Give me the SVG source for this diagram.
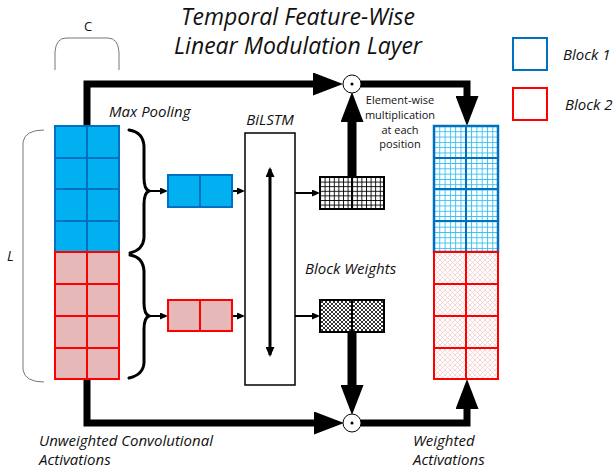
<svg xmlns="http://www.w3.org/2000/svg" width="616" height="471" viewBox="0 0 616 471">
<style>
  text { font-family: "Open Sans", "Noto Sans", "DejaVu Sans", sans-serif; fill: #111; }
  .it { font-style: italic; }
  .title { font-size: 23px; font-style: italic; text-anchor: middle; }
  .lbl { font-size: 15px; font-style: italic; }
  .note { font-size: 11px; text-anchor: middle; }
  .blueCell { fill: #00B0F0; stroke: #0070C0; stroke-width: 2; }
  .redCell { fill: #E6B9B8; stroke: #FF0000; stroke-width: 2; }
  .blueLine { stroke: #0070C0; stroke-width: 2; fill: none; }
  .redLine { stroke: #FF0000; stroke-width: 2; fill: none; }
  .thick { stroke: #000; stroke-width: 7; fill: none; stroke-linejoin: miter; }
  .thicker { stroke: #000; stroke-width: 9; fill: none; }
  .thin { stroke: #000; stroke-width: 2; fill: none; }
  .brace { stroke: #000; stroke-width: 3; fill: none; stroke-linecap: round; }
  .bracket { stroke: #777; stroke-width: 1; fill: none; }
  .blk { stroke: #000; stroke-width: 2; }
</style>
<defs>
  <marker id="bigHead" markerUnits="userSpaceOnUse" markerWidth="30" markerHeight="23" viewBox="0 0 30 23" refX="1" refY="11.5" orient="auto">
    <path d="M0,0 L30,11.5 L0,23 z" fill="#000"/>
  </marker>
  <marker id="smallHead" markerUnits="userSpaceOnUse" markerWidth="8" markerHeight="7" viewBox="0 0 8 7" refX="6" refY="3.5" orient="auto">
    <path d="M0,0 L8,3.5 L0,7 z" fill="#000"/>
  </marker>
  <marker id="dblHead" markerUnits="userSpaceOnUse" markerWidth="10" markerHeight="9" viewBox="0 0 10 9" refX="8" refY="4.5" orient="auto-start-reverse">
    <path d="M0,0 L10,4.5 L0,9 z" fill="#000"/>
  </marker>
  <pattern id="gridK" patternUnits="userSpaceOnUse" x="320" y="177" width="4.6" height="4.6">
    <rect width="4.6" height="4.6" fill="#fff"/>
    <path d="M0,0.5 H4.6 M0.5,0 V4.6" stroke="#000" stroke-width="0.9"/>
  </pattern>
  <pattern id="crossK" patternUnits="userSpaceOnUse" width="4" height="4">
    <rect width="4" height="4" fill="#fff"/>
    <path d="M0,0 L4,4 M4,0 L0,4" stroke="#000" stroke-width="0.8"/>
  </pattern>
  <pattern id="gridB" patternUnits="userSpaceOnUse" x="434" y="126" width="5.3" height="5.3">
    <rect width="5.3" height="5.3" fill="#fff"/>
    <path d="M0,0.5 H5.3 M0.5,0 V5.3" stroke="#33BFF2" stroke-width="0.9"/>
  </pattern>
  <pattern id="crossR" patternUnits="userSpaceOnUse" width="5" height="5">
    <rect width="5" height="5" fill="#fff"/>
    <path d="M0,0 L5,5 M5,0 L0,5" stroke="#F5CCCC" stroke-width="0.8"/>
  </pattern>
</defs>

<rect width="616" height="471" fill="#fff"/>

<!-- Title -->
<g id="title">
  <text class="title" x="298" y="25">Temporal Feature-Wise</text>
  <text class="title" x="298" y="54">Linear Modulation Layer</text>
</g>

<!-- Legend -->
<g id="legend-block1">
  <rect x="513" y="38" width="34" height="32" fill="#fff" stroke="#0070C0" stroke-width="2"/>
  <text class="lbl" x="563" y="60">Block 1</text>
</g>
<g id="legend-block2">
  <rect x="513" y="88" width="34" height="32" fill="#fff" stroke="#FF0000" stroke-width="2"/>
  <text class="lbl" x="565" y="110">Block 2</text>
</g>

<!-- Connectors -->
<g id="connectors">
  <path class="thick" d="M87,126 V84 H314" marker-end="url(#bigHead)"/>
  <path class="thick" d="M361,84 H467 V97" marker-end="url(#bigHead)"/>
  <path class="thicker" d="M352,177 V121" marker-end="url(#bigHead)"/>
  <path class="thick" d="M87,379 V423 H315" marker-end="url(#bigHead)"/>
  <path class="thicker" d="M352,332 V386" marker-end="url(#bigHead)"/>
  <path class="thick" d="M361,423 H467 V408" marker-end="url(#bigHead)"/>
  <path class="thin" d="M148,191 H166" marker-end="url(#smallHead)"/>
  <path class="thin" d="M148,316 H166" marker-end="url(#smallHead)"/>
  <path class="thin" stroke-width="1.5" d="M232,191 H243" marker-end="url(#smallHead)"/>
  <path class="thin" stroke-width="1.5" d="M232,316 H243" marker-end="url(#smallHead)"/>
  <path class="thin" d="M295,193 H318" marker-end="url(#smallHead)"/>
  <path class="thin" d="M295,316 H318" marker-end="url(#smallHead)"/>
</g>

<!-- Input activations -->
<g id="input-activations">
  <rect class="blueCell" x="55" y="126" width="64" height="126"/>
  <path class="blueLine" d="M55,158 H119 M55,189 H119 M55,221 H119 M87,126 V252"/>
  <rect class="redCell" x="55" y="252" width="64" height="127"/>
  <path class="redLine" d="M55,284 H119 M55,316 H119 M55,348 H119 M87,252 V379"/>
  <path class="redLine" d="M55,252 H119"/>
</g>

<!-- C bracket -->
<g id="c-bracket">
  <path class="bracket" d="M55,70 V52 Q56,38 66,38 H108 Q118,38 119,52 V70"/>
  <text x="88" y="31" font-size="13" text-anchor="middle">C</text>
</g>

<!-- L bracket -->
<g id="l-bracket">
  <path class="bracket" d="M44,130 Q25,130 23,142 V370 Q25,382 44,382"/>
  <text class="it" x="7" y="261" font-size="14">L</text>
</g>

<!-- Braces -->
<g id="brace-block1">
  <path class="brace" d="M129,130 Q143,132 144,146 V178 Q144,189 149,191 Q144,193 144,204 V238 Q143,250 130,253"/>
</g>
<g id="brace-block2">
  <path class="brace" d="M130,255 Q143,257 144,271 V303 Q144,314 149,316 Q144,318 144,329 V363 Q143,375 129,378"/>
</g>

<!-- Max pooling label -->
<text class="lbl" x="109" y="117">Max Pooling</text>

<!-- Pooled blocks -->
<g id="pooled-block1">
  <rect class="blueCell" x="168" y="175" width="64" height="32"/>
  <path class="blueLine" d="M200,175 V207"/>
</g>
<g id="pooled-block2">
  <rect class="redCell" x="168" y="300" width="64" height="31"/>
  <path class="redLine" d="M200,300 V331"/>
</g>

<!-- BiLSTM -->
<g id="bilstm">
  <text class="lbl" x="270" y="125" text-anchor="middle">BiLSTM</text>
  <rect x="245" y="133" width="50" height="252" fill="#fff" stroke="#000" stroke-width="1.5"/>
  <path d="M270,169 V355" stroke="#000" stroke-width="3" fill="none" marker-start="url(#dblHead)" marker-end="url(#dblHead)"/>
</g>

<!-- Block weights -->
<g id="weights-block1">
  <rect x="320" y="177" width="64" height="32" fill="url(#gridK)" stroke="#000" stroke-width="2"/>
  <path class="blk" d="M352,177 V209"/>
</g>
<g id="weights-block2">
  <rect x="320" y="300" width="64" height="32" fill="url(#crossK)" stroke="#000" stroke-width="2"/>
  <path class="blk" d="M352,300 V332"/>
</g>
<text class="lbl" x="305" y="274">Block Weights</text>

<!-- Multiply nodes -->
<g id="mult-top">
  <circle cx="352" cy="84" r="9" fill="#fff" stroke="#000" stroke-width="1"/>
  <circle cx="352" cy="84" r="1.5" fill="#000"/>
</g>
<g id="mult-bottom">
  <circle cx="352" cy="423" r="9" fill="#fff" stroke="#000" stroke-width="1"/>
  <circle cx="352" cy="423" r="1.5" fill="#000"/>
</g>

<g id="mult-note">
  <text class="note" x="400" y="104">Element-wise</text>
  <text class="note" x="400" y="119">multiplication</text>
  <text class="note" x="400" y="134">at each</text>
  <text class="note" x="400" y="148">position</text>
</g>

<!-- Output activations -->
<g id="output-activations">
  <rect x="434" y="126" width="64" height="126" fill="url(#gridB)" stroke="#0070C0" stroke-width="2.5"/>
  <path class="blueLine" stroke-width="2.5" d="M434,158 H498 M434,189 H498 M434,221 H498 M466,126 V252"/>
  <rect x="434" y="252" width="64" height="127" fill="url(#crossR)" stroke="#FF0000" stroke-width="2"/>
  <path class="redLine" d="M434,284 H498 M434,316 H498 M434,348 H498 M466,252 V379"/>
</g>

<!-- Bottom labels -->
<g id="label-unweighted">
  <text class="lbl" x="39" y="446">Unweighted Convolutional</text>
  <text class="lbl" x="39" y="465">Activations</text>
</g>
<g id="label-weighted">
  <text class="lbl" x="413" y="446">Weighted</text>
  <text class="lbl" x="413" y="465">Activations</text>
</g>
</svg>
